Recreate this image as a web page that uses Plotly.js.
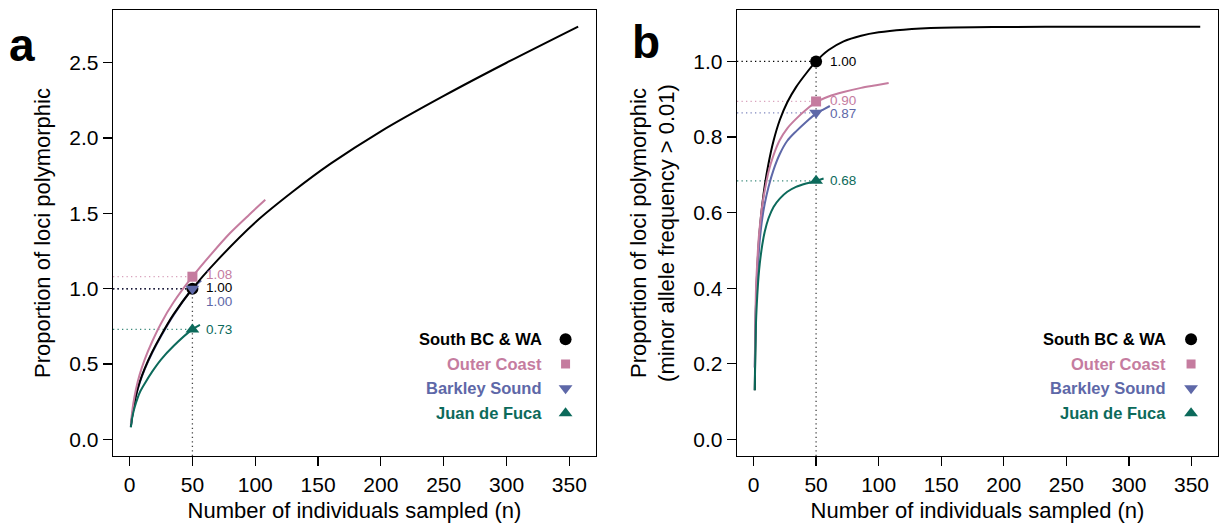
<!DOCTYPE html>
<html>
<head>
<meta charset="utf-8">
<script src="https://cdn.plot.ly/plotly-3.0.1.min.js"></script>
<style>html,body{margin:0;padding:0;background:#fff;}</style>
</head>
<body>
<div id="chart" style="width:1225px;height:525px;"></div>
<script>
// ---------------- data ----------------
const populations = ['South BC & WA', 'Outer Coast', 'Barkley Sound', 'Juan de Fuca'];
const xTicks = [0, 50, 100, 150, 200, 250, 300, 350];
const yTicksA = [0, 0.5, 1.0, 1.5, 2.0, 2.5];
const yTicksB = [0, 0.2, 0.4, 0.6, 0.8, 1.0];

// Panel a: proportion of loci polymorphic (relative to South BC & WA at n = 50)
const nA_south = [1, 2, 3, 5, 8, 12, 18, 25, 35, 50, 70, 100, 130, 160, 200, 250, 300, 357];
const yA_south = [0.085, 0.15, 0.20, 0.29, 0.38, 0.47, 0.58, 0.69, 0.83, 1.00, 1.19, 1.44, 1.645, 1.83, 2.045, 2.28, 2.50, 2.74];
const nA_outer = [1, 2, 3, 5, 8, 12, 18, 25, 35, 50, 65, 80, 95, 108];
const yA_outer = [0.10, 0.18, 0.24, 0.33, 0.43, 0.53, 0.65, 0.77, 0.91, 1.08, 1.23, 1.37, 1.49, 1.59];
const nA_barkley = [1, 2, 3, 5, 8, 12, 18, 25, 35, 50, 57];
const yA_barkley = [0.085, 0.15, 0.20, 0.285, 0.375, 0.465, 0.575, 0.685, 0.825, 1.00, 1.055];
const nA_juan = [1, 2, 3, 5, 8, 12, 18, 25, 35, 50, 56];
const yA_juan = [0.08, 0.14, 0.18, 0.24, 0.31, 0.37, 0.45, 0.53, 0.62, 0.73, 0.76];

// Panel b: proportion of loci polymorphic with minor allele frequency > 0.01
const nB_south = [1, 2, 3, 4, 5, 7, 9, 12, 16, 21, 27, 34, 42, 50, 60, 72, 86, 100, 120, 150, 200, 260, 357];
const yB_south = [0.13, 0.36, 0.45, 0.51, 0.555, 0.622, 0.672, 0.73, 0.79, 0.845, 0.892, 0.932, 0.968, 1.000, 1.030, 1.053, 1.068, 1.077, 1.084, 1.089, 1.091, 1.092, 1.092];
const nB_outer = [1, 2, 3, 4, 5, 7, 9, 12, 16, 21, 27, 34, 42, 50, 60, 72, 86, 98, 108];
const yB_outer = [0.19, 0.40, 0.47, 0.525, 0.562, 0.62, 0.659, 0.708, 0.752, 0.792, 0.823, 0.848, 0.872, 0.892, 0.907, 0.919, 0.930, 0.937, 0.943];
const nB_barkley = [1, 2, 3, 4, 5, 7, 9, 12, 16, 21, 27, 34, 42, 50, 56, 61];
const yB_barkley = [0.19, 0.36, 0.43, 0.485, 0.527, 0.585, 0.624, 0.668, 0.713, 0.755, 0.79, 0.815, 0.84, 0.862, 0.873, 0.882];
const nB_juan = [1, 2, 3, 4, 5, 7, 9, 12, 16, 21, 27, 34, 42, 50, 56];
const yB_juan = [0.13, 0.31, 0.38, 0.43, 0.465, 0.515, 0.55, 0.585, 0.615, 0.637, 0.655, 0.668, 0.677, 0.684, 0.690];

// values at n = 50 (markers) and their printed labels
const nMark = 50;
const markA = [1.00, 1.08, 1.00, 0.73];
const labelA = ['1.00', '1.08', '1.00', '0.73'];
const markB = [1.00, 0.894, 0.864, 0.684];
const labelB = ['1.00', '0.90', '0.87', '0.68'];

// ---------------- styling ----------------
const COLORS = ['#000000', '#C57C9F', '#5E68A8', '#0C6A5B'];
const HLINE_COLORS_A = ['#1a1a3a', '#D9A3BD', '#1a1a3a', '#3C8A7C'];
const HLINE_COLORS_B = ['#000000', '#D9A3BD', '#7F87BE', '#3C8A7C'];
const SYMBOLS = ['circle', 'square', 'triangle-down', 'triangle-up'];
const MSIZE = [12, 10, 12, 12];
const FONT = 'Liberation Sans, Arial, Helvetica, sans-serif';
const XR = [-13.2, 371.2];
const YRA = [-0.11, 2.85];
const YRB = [-0.044, 1.136];
const DOT = '1.3px,3.2px';

const curvesA = [[nA_south, yA_south], [nA_outer, yA_outer], [nA_barkley, yA_barkley], [nA_juan, yA_juan]];
const curvesB = [[nB_south, yB_south], [nB_outer, yB_outer], [nB_barkley, yB_barkley], [nB_juan, yB_juan]];

const traces = [];
const shapes = [];
const annotations = [];

function addPanel(curves, marks, labels, hcolors, xa, ya, yr, labelShifts, order) {
  order.forEach(i => {
    traces.push({
      x: curves[i][0], y: curves[i][1], xaxis: xa, yaxis: ya,
      type: 'scatter', mode: 'lines',
      line: {color: COLORS[i], width: 2, shape: 'spline', smoothing: 0.8},
      hoverinfo: 'skip', showlegend: false
    });
  });
  [3, 2, 1, 0].forEach(i => {
    shapes.push({type: 'line', xref: xa, yref: ya, x0: XR[0], x1: nMark, y0: marks[i], y1: marks[i],
      line: {color: hcolors[i], width: 1.3, dash: DOT}, layer: 'below'});
  });
  shapes.push({type: 'line', xref: xa, yref: ya, x0: nMark, x1: nMark, y0: yr[0], y1: Math.max(...marks),
    line: {color: '#444444', width: 1.3, dash: DOT}, layer: 'below'});
  [0, 1, 3, 2].forEach(i => {
    traces.push({
      x: [nMark], y: [marks[i]], xaxis: xa, yaxis: ya, type: 'scatter', mode: 'markers',
      marker: {symbol: SYMBOLS[i], size: MSIZE[i], color: COLORS[i], line: {width: 0}},
      hoverinfo: 'skip', showlegend: false
    });
  });
  [0, 1, 2, 3].forEach(i => {
    annotations.push({
      x: nMark, y: marks[i], xref: xa, yref: ya, text: labels[i], showarrow: false,
      xanchor: 'left', yanchor: 'middle', xshift: 13, yshift: labelShifts[i],
      font: {family: FONT, size: 13.5, color: COLORS[i]}, borderpad: 0
    });
  });
}

addPanel(curvesA, markA, labelA, HLINE_COLORS_A, 'x', 'y', YRA, [1, 2, -13, 0], [2, 0, 1, 3]);
addPanel(curvesB, markB, labelB, HLINE_COLORS_B, 'x2', 'y2', YRB, [0, 1, -1, 0], [0, 2, 1, 3]);

// custom legends (text right-aligned, symbol on the right)
const legRowsY = [0.2616, 0.2063, 0.1518, 0.0957];
function addLegend(xa, ya, ox, oy, textX, symX) {
  populations.forEach((p, i) => {
    annotations.push({
      x: textX, y: legRowsY[i], xref: xa + ' domain', yref: ya + ' domain', text: '<b>' + p + '</b>',
      showarrow: false, xanchor: 'right', yanchor: 'middle',
      font: {family: FONT, size: 16.5, color: COLORS[i]}
    });
    traces.push({
      x: [symX], y: [legRowsY[i]], xaxis: ox, yaxis: oy,
      type: 'scatter', mode: 'markers',
      marker: {symbol: SYMBOLS[i], size: [12, 9, 12, 12][i], color: COLORS[i], line: {width: 0}},
      hoverinfo: 'skip', showlegend: false
    });
  });
}
addLegend('x', 'y', 'x3', 'y3', 0.893, 0.937);
addLegend('x2', 'y2', 'x4', 'y4', 0.897, 0.944);

// panel letters
annotations.push({x: 22 / 1225, y: 1 - 45 / 525, xref: 'paper', yref: 'paper', text: '<b>a</b>', showarrow: false,
  xanchor: 'center', yanchor: 'middle', font: {family: FONT, size: 46, color: '#000'}});
annotations.push({x: 646 / 1225, y: 1 - 42 / 525, xref: 'paper', yref: 'paper', text: '<b>b</b>', showarrow: false,
  xanchor: 'center', yanchor: 'middle', font: {family: FONT, size: 46, color: '#000'}});

const DOMY = [1 - 456 / 525, 1 - 10 / 525];
function xAxis(domain, anchor) {
  return {
    domain: domain, anchor: anchor, range: XR, tickvals: xTicks, ticktext: xTicks.map(String),
    ticks: 'outside', ticklen: 9, tickwidth: 1.2, tickcolor: '#000',
    showline: true, mirror: true, linecolor: '#000', linewidth: 1.3,
    showgrid: false, zeroline: false,
    tickfont: {family: FONT, size: 21, color: '#000'},
    title: {text: 'Number of individuals sampled (n)', font: {family: FONT, size: 22, color: '#000'}, standoff: 8},
    automargin: false
  };
}
function yAxis(range, ticks, anchor, title) {
  return {
    domain: DOMY, anchor: anchor, range: range, tickvals: ticks, ticktext: ticks.map(v => v.toFixed(1)),
    ticks: 'outside', ticklen: 9, tickwidth: 1.2, tickcolor: '#000',
    showline: true, mirror: true, linecolor: '#000', linewidth: 1.3,
    showgrid: false, zeroline: false,
    tickfont: {family: FONT, size: 21, color: '#000'},
    title: {text: title, font: {family: FONT, size: 22, color: '#000'}, standoff: 12},
    automargin: false
  };
}
const domA = [113 / 1225, 596 / 1225];
const domB = [737 / 1225, 1218 / 1225];
const hiddenX = (over, anchor) => ({overlaying: over, anchor: anchor, range: [0, 1], visible: false, fixedrange: true});

const layout = {
  width: 1225, height: 525,
  margin: {l: 0, r: 0, t: 0, b: 0},
  paper_bgcolor: '#fff', plot_bgcolor: 'rgba(0,0,0,0)',
  showlegend: false,
  xaxis: xAxis(domA, 'y'),
  yaxis: yAxis(YRA, yTicksA, 'x', 'Proportion of loci polymorphic'),
  xaxis2: xAxis(domB, 'y2'),
  yaxis2: yAxis(YRB, yTicksB, 'x2', 'Proportion of loci polymorphic<br>(minor allele frequency > 0.01)'),
  xaxis3: hiddenX('x', 'y3'),
  yaxis3: hiddenX('y', 'x3'),
  xaxis4: hiddenX('x2', 'y4'),
  yaxis4: hiddenX('y2', 'x4'),
  shapes: shapes,
  annotations: annotations
};

Plotly.newPlot('chart', traces, layout, {staticPlot: true, displayModeBar: false});
</script>
</body>
</html>
